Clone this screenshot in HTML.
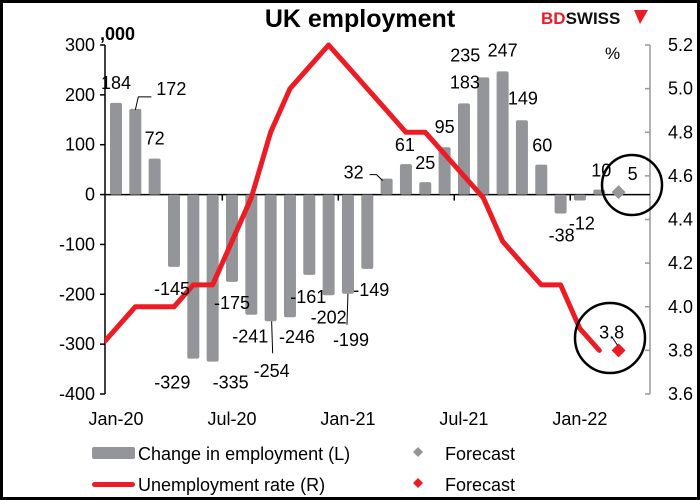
<!DOCTYPE html>
<html><head><meta charset="utf-8"><style>
html,body{margin:0;padding:0;background:#fff}
svg{display:block;font-family:"Liberation Sans",Arial,sans-serif}
</style></head><body>
<svg id="chart" width="700" height="500" viewBox="0 0 700 500">
<rect x="1.5" y="1.5" width="697" height="497" fill="#fff" stroke="#000" stroke-width="3"/>
<text x="360" y="27" text-anchor="middle" font-size="25" font-weight="bold">UK employment</text>
<g>
<text x="541" y="24" font-size="17" font-weight="bold" fill="#ed1c24">BD<tspan fill="#111">SWISS</tspan></text>
<path d="M634 10 L648 10 L640 24 Z" fill="#ed1c24"/>
</g>
<text x="100" y="40" font-size="18" font-weight="bold">,000</text>
<text x="605" y="59" font-size="17">%</text>
<g id="axes"></g>
<g id="bars"></g>
<g id="line"></g>
<g id="labels"></g>
<circle cx="632" cy="185" r="30" fill="none" stroke="#000" stroke-width="2.5"/>
<circle cx="610" cy="338" r="35" fill="none" stroke="#000" stroke-width="2.5"/>
<g>
<rect x="92" y="447" width="43" height="12" rx="2" fill="#939598"/>
<text x="138" y="460" font-size="18">Change in employment (L)</text>
<rect x="92" y="482" width="43" height="5" rx="2.5" fill="#ed1c24"/>
<text x="138" y="491" font-size="18">Unemployment rate (R)</text>
<path d="M418 447 L423 452 L418 457 L413 452 Z" fill="#939598"/>
<text x="445" y="460" font-size="18">Forecast</text>
<path d="M418 478 L423 483 L418 488 L413 483 Z" fill="#ed1c24"/>
<text x="445" y="491" font-size="18">Forecast</text>
</g>
</svg>
<script>
const employment = [184,172,72,-145,-329,-335,-175,-241,-254,-246,-161,-202,-199,-149,32,61,25,95,183,235,247,149,60,-38,-12,10];
const employmentForecast = 5;
const unemployment = [3.8,3.9,4.0,4.0,4.0,4.1,4.1,4.3,4.5,4.8,5.0,5.1,5.2,5.1,5.0,4.9,4.8,4.8,4.7,4.6,4.5,4.3,4.2,4.1,4.1,3.9,3.8]; // starts Dec-19
const unemploymentForecast = 3.8;
const leftTicks = [300,200,100,0,-100,-200,-300,-400];
const rightTicks = ["5.2","5.0","4.8","4.6","4.4","4.2","4.0","3.8","3.6"];
const xLabels = ["Jan-20","Jul-20","Jan-21","Jul-21","Jan-22"];
const labelDx = [0,36,0,-2,-21,18,0,-1,1,7,-1,0,3,4,-33,-1,0,0,1,-18,0,1,1,1,2,2];
const labelDy = [-20,-20,-20,22,24,21,21,22,50,20,22,22,46,21,-6,-19,-19,-20,-21,-22,-21,-22,-19,22,23,-19];

const NS="http://www.w3.org/2000/svg";
const X0=116, DX=19.33, AX_L=105, AX_R=650, TOP=45, BOT=394;
const xPos=i=>X0+i*DX;
const yL=v=>TOP+(300-v)/700*(BOT-TOP);
const yR=v=>TOP+(5.2-v)/1.6*(BOT-TOP);
function mk(tag,attrs,parent){const e=document.createElementNS(NS,tag);for(const k in attrs)e.setAttribute(k,attrs[k]);parent.appendChild(e);return e;}
const axes=document.getElementById('axes'),bars=document.getElementById('bars'),line=document.getElementById('line'),labels=document.getElementById('labels');

let e;
e=mk('line',{x1:AX_L,y1:TOP,x2:AX_L,y2:BOT,stroke:'#000','stroke-width':1.5},axes);


e=mk('line',{x1:AX_R,y1:TOP,x2:AX_R,y2:BOT,stroke:'#999','stroke-width':1.5},axes);


leftTicks.forEach(v=>{
  const y=yL(v);
  e=mk('line',{x1:AX_L-5,y1:y,x2:AX_L,y2:y,stroke:'#000','stroke-width':1.5},axes);
  
  
  e=mk('text',{x:AX_L-10,y:y+6,'text-anchor':'end','font-size':18},axes);
  e.textContent=v;
  
  
});
rightTicks.forEach(s=>{
  const y=yR(parseFloat(s));
  e=mk('line',{x1:AX_R-5,y1:y,x2:AX_R,y2:y,stroke:'#999','stroke-width':1.5},axes);
  
  
  e=mk('text',{x:AX_R+18,y:y+6,'font-size':18},axes);
  e.textContent=s;
  
  
});
const y0=yL(0);
e=mk('line',{x1:AX_L,y1:y0,x2:AX_R,y2:y0,stroke:'#000','stroke-width':1.5},axes);


xLabels.forEach((s,k)=>{
  const i=k*6;
  if(k>0){
    e=mk('line',{x1:xPos(i-0.5),y1:y0,x2:xPos(i-0.5),y2:y0+6,stroke:'#000','stroke-width':1.5},axes);
    
    
  }
  e=mk('text',{x:xPos(i),y:425,'text-anchor':'middle','font-size':18},axes);
  e.textContent=s;
  
  
});

employment.forEach((v,i)=>{
  const x=xPos(i), y=yL(v);
  e=mk('rect',{x:x-6,y:Math.min(y,y0),width:12,height:Math.abs(y-y0),rx:2,fill:'#939598'},bars);
  
  
  const lx=x+labelDx[i], ly=y+labelDy[i];
  e=mk('text',{x:lx,y:ly+6,'text-anchor':'middle','font-size':18},labels);
  e.textContent=v;
  
  
});
// leader lines
function leader(pts,name){e=mk('polyline',{points:pts,fill:'none',stroke:'#000','stroke-width':1},labels);}
leader(`${xPos(1)},${yL(employment[1])+1} ${xPos(1)+3},${yL(employment[1])-12} ${xPos(1)+16},${yL(employment[1])-12}`,'leader-172');
leader(`${xPos(8)+1},${yL(employment[8])} ${xPos(8)+2},${yL(employment[8])+32}`,'leader-254');
leader(`${xPos(12)},${yL(employment[12])} ${xPos(12)-1},${yL(employment[12])+31}`,'leader-199');
leader(`${xPos(14)-17},${yL(employment[14])-4} ${xPos(14)-10},${yL(employment[14])-4} ${xPos(14)-4},${yL(employment[14])+2}`,'leader-32');

const fx=xPos(employment.length), fy=yL(employmentForecast);
e=mk('path',{d:`M${fx} ${fy-7} L${fx+7} ${fy} L${fx} ${fy+7} L${fx-7} ${fy} Z`,fill:'#939598'},bars);


e=mk('text',{x:fx+14,y:fy-18+6,'text-anchor':'middle','font-size':18},labels);
e.textContent=employmentForecast;



mk('clipPath',{id:'plotclip'},line);
mk('rect',{x:AX_L,y:0,width:AX_R-AX_L,height:500},line.lastChild);
const pts=unemployment.map((v,k)=>`${xPos(k-1).toFixed(1)},${yR(v).toFixed(1)}`).join(' ');
e=mk('polyline',{points:pts,fill:'none',stroke:'#ed1c24','stroke-width':5,'stroke-linejoin':'round','stroke-linecap':'round','clip-path':'url(#plotclip)'},line);


const rx=xPos(unemployment.length-1), ry=yR(unemploymentForecast);
e=mk('path',{d:`M${rx} ${ry-7} L${rx+7} ${ry} L${rx} ${ry+7} L${rx-7} ${ry} Z`,fill:'#ed1c24'},line);


leader(`${rx-7},${ry-14} ${rx-1},${ry-5}`,'leader-3-8');
e=mk('text',{x:rx-7,y:ry-12,'text-anchor':'middle','font-size':18},labels);
e.textContent=unemploymentForecast.toFixed(1);


</script>
</body></html>
